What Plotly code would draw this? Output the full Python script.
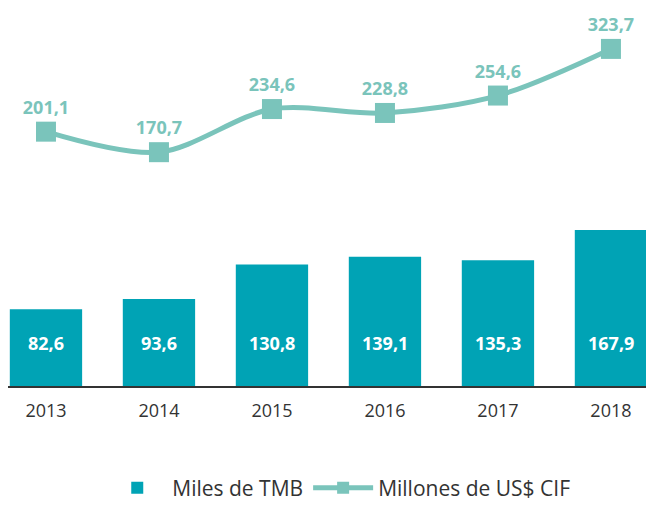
import plotly.graph_objects as go

years = ["2013", "2014", "2015", "2016", "2017", "2018"]
miles_tmb = [82.6, 93.6, 130.8, 139.1, 135.3, 167.9]
millones_usd = [201.1, 170.7, 234.6, 228.8, 254.6, 323.7]

BAR_COLOR = "#00A3B5"
LINE_COLOR = "#7AC4BB"
FONT = "Open Sans"

def fmt(v):
    return f"{v:.1f}".replace(".", ",")

fig = go.Figure()
fig.add_trace(go.Bar(
    x=years, y=miles_tmb, name="Miles de TMB",
    marker=dict(color=BAR_COLOR, line=dict(width=0)),
    width=0.64, yaxis="y",
))
fig.add_trace(go.Scatter(
    x=years, y=millones_usd, name="Millones de US$ CIF",
    mode="lines+markers+text",
    line=dict(color=LINE_COLOR, width=5, shape="spline", smoothing=0.9),
    marker=dict(symbol="square", size=20, color=LINE_COLOR),
    text=["<b>" + fmt(v) + "</b>" for v in millones_usd], textposition="top center",
    textfont=dict(family=FONT, size=18, color=LINE_COLOR),
    yaxis="y2", cliponaxis=False,
))

for i, v in enumerate(miles_tmb):
    fig.add_annotation(x=i, y=0, xref="x", yref="paper", text="<b>" + fmt(v) + "</b>",
                       showarrow=False, yshift=43, yanchor="middle",
                       font=dict(family=FONT, size=18, color="#FFFFFF"))

fig.update_layout(
    width=646, height=501,
    margin=dict(l=0, r=0, t=0, b=113),
    paper_bgcolor="white", plot_bgcolor="white",
    font=dict(family=FONT, color="#333333"),
    showlegend=True,
    legend=dict(orientation="h", x=0.512, xanchor="center", y=-0.27, yanchor="middle",
                font=dict(family=FONT, size=21, color="#333333"), itemwidth=60,
                traceorder="normal", itemsizing="constant"),
    xaxis=dict(type="category", range=[-0.336, 5.381], showgrid=False, zeroline=False,
               showline=True, linecolor="#333333", linewidth=1.5,
               ticks="outside", ticklen=8, tickcolor="white",
               tickfont=dict(family=FONT, size=18, color="#333333")),
    yaxis=dict(domain=[0, 0.43], range=[0, 175], visible=False),
    yaxis2=dict(domain=[0.5, 1], range=[104.3, 384.3], visible=False),
)

fig.write_html("out.html")
